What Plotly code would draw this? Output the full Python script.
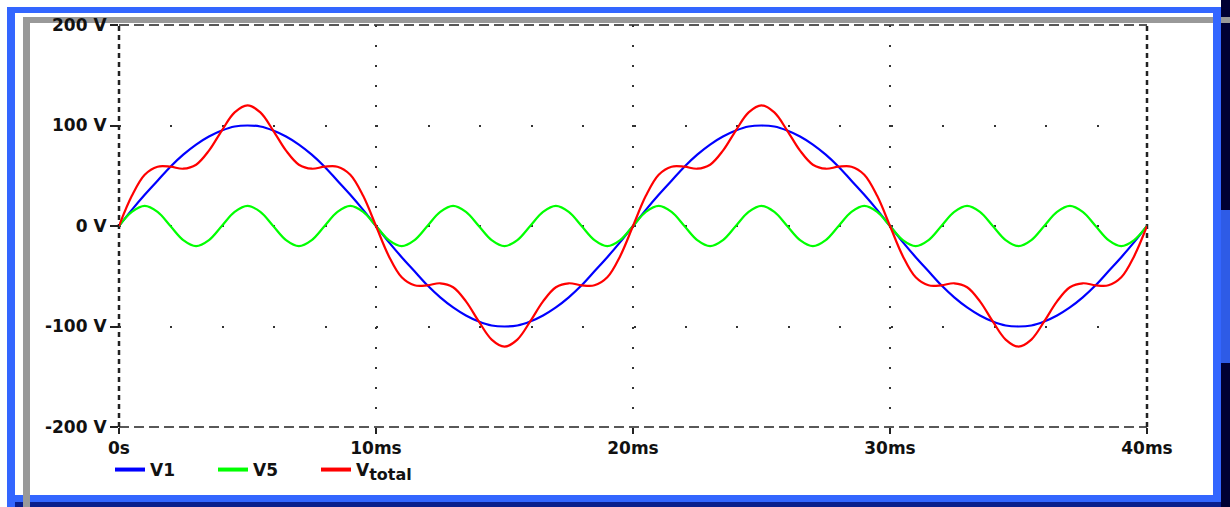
import plotly.graph_objects as go

# ---------------- data ----------------
t_ms = [0, 0.5, 1, 1.5, 2, 2.5, 3, 3.5, 4, 4.5, 5, 5.5, 6, 6.5, 7, 7.5, 8, 8.5, 9, 9.5,
        10, 10.5, 11, 11.5, 12, 12.5, 13, 13.5, 14, 14.5, 15, 15.5, 16, 16.5, 17, 17.5, 18, 18.5, 19, 19.5,
        20, 20.5, 21, 21.5, 22, 22.5, 23, 23.5, 24, 24.5, 25, 25.5, 26, 26.5, 27, 27.5, 28, 28.5, 29, 29.5,
        30, 30.5, 31, 31.5, 32, 32.5, 33, 33.5, 34, 34.5, 35, 35.5, 36, 36.5, 37, 37.5, 38, 38.5, 39, 39.5,
        40]

v1 = [0, 16, 31, 45, 59, 71, 81, 89, 95, 99, 100, 99, 95, 89, 81, 71, 59, 45, 31, 16,
      0, -16, -31, -45, -59, -71, -81, -89, -95, -99, -100, -99, -95, -89, -81, -71, -59, -45, -31, -16,
      0, 16, 31, 45, 59, 71, 81, 89, 95, 99, 100, 99, 95, 89, 81, 71, 59, 45, 31, 16,
      0, -16, -31, -45, -59, -71, -81, -89, -95, -99, -100, -99, -95, -89, -81, -71, -59, -45, -31, -16,
      0]

v5 = [0, 14, 20, 14, 0, -14, -20, -14, 0, 14, 20, 14, 0, -14, -20, -14, 0, 14, 20, 14,
      0, -14, -20, -14, 0, 14, 20, 14, 0, -14, -20, -14, 0, 14, 20, 14, 0, -14, -20, -14,
      0, 14, 20, 14, 0, -14, -20, -14, 0, 14, 20, 14, 0, -14, -20, -14, 0, 14, 20, 14,
      0, -14, -20, -14, 0, 14, 20, 14, 0, -14, -20, -14, 0, 14, 20, 14, 0, -14, -20, -14,
      0]

v_total = [0, 30, 51, 59, 59, 57, 61, 75, 95, 113, 120, 113, 95, 75, 61, 57, 59, 59, 51, 30,
           0, -30, -51, -59, -59, -57, -61, -75, -95, -113, -120, -113, -95, -75, -61, -57, -59, -59, -51, -30,
           0, 30, 51, 59, 59, 57, 61, 75, 95, 113, 120, 113, 95, 75, 61, 57, 59, 59, 51, 30,
           0, -30, -51, -59, -59, -57, -61, -75, -95, -113, -120, -113, -95, -75, -61, -57, -59, -59, -51, -30,
           0]

series_names = ["V1", "V5", "V<sub><span style=\"font-size:16px\">total</span></sub>"]
series_colors = ["#0000FF", "#00FF00", "#FF0000"]

x_tickvals = [0, 10, 20, 30, 40]
x_ticktext = ["0s", "10ms", "20ms", "30ms", "40ms"]
y_tickvals = [-200, -100, 0, 100, 200]
y_ticktext = ["-200 V", "-100 V", "0 V", "100 V", "200 V"]

# ---------------- layout geometry ----------------
W, H = 1230, 507
ML, MR, MT, MB = 119, 83, 25, 80
PW, PH = W - ML - MR, H - MT - MB


def px_x(p):
    return (p - ML) / PW


def px_y(p):
    return (H - MB - p) / PH


FONT = dict(family="DejaVu Sans", size=17, color="#111111", weight="bold")

fig = go.Figure()
for vals, name, col in zip([v1, v5, v_total], series_names, series_colors):
    fig.add_trace(go.Scatter(x=t_ms, y=vals, mode="lines", name=name,
                             line=dict(color=col, width=2.2, shape="spline"),
                             showlegend=False, hoverinfo="skip"))
# legend entries (thicker line samples as in the original)
for name, col in zip(series_names, series_colors):
    fig.add_trace(go.Scatter(x=[None], y=[None], mode="lines", name=name,
                             line=dict(color=col, width=4), showlegend=True))

shapes = []


def rect(x0, y0, x1, y1, color, layer="below"):
    shapes.append(dict(type="rect", xref="paper", yref="paper",
                       x0=px_x(x0), x1=px_x(x1), y0=px_y(y1), y1=px_y(y0),
                       fillcolor=color, line=dict(width=0), layer=layer))


# outer frame
BLUE = "#3366FF"
NAVY = "#000033"
GRAY = "#999999"
rect(7, 7, 1221, 13, BLUE)          # top
rect(7, 7, 15, 507, BLUE)           # left
rect(15, 495, 1221, 502, BLUE)      # bottom
rect(15, 502, 1230, 507, "#0A1E8C") # bottom dark
rect(1213, 7, 1221, 502, BLUE)      # right
rect(1221, 0, 1230, 507, NAVY)      # far right
rect(1221, 210, 1230, 363, "#2E5BE6")
rect(23, 17, 1213, 23, GRAY)        # top gray
rect(1221, 17, 1230, 23, GRAY)
rect(23, 17, 30, 507, GRAY)         # left gray

# dashed plot border
DCOL = "#222222"
shapes.append(dict(type="line", xref="paper", yref="paper", x0=0, x1=1, y0=1, y1=1,
                   line=dict(color=DCOL, width=1.5, dash="10px,5px"), layer="below"))
shapes.append(dict(type="line", xref="paper", yref="paper", x0=0, x1=1, y0=0, y1=0,
                   line=dict(color=DCOL, width=1.5, dash="10px,5px"), layer="below"))
shapes.append(dict(type="line", xref="paper", yref="paper", x0=0, x1=0, y0=0, y1=1,
                   line=dict(color=DCOL, width=2.5, dash="5px,4px"), layer="below"))
shapes.append(dict(type="line", xref="paper", yref="paper", x0=1, x1=1, y0=0, y1=1,
                   line=dict(color=DCOL, width=2.5, dash="5px,4px"), layer="below"))

fig.update_layout(
    width=W, height=H,
    margin=dict(l=ML, r=MR, t=MT, b=MB, pad=0),
    paper_bgcolor="white", plot_bgcolor="white",
    shapes=shapes,
    showlegend=True,
    legend=dict(orientation="h", x=px_x(110), y=px_y(452), xanchor="left", yanchor="top",
                font=FONT, entrywidth=58, bgcolor="rgba(0,0,0,0)", itemclick=False,
                tracegroupgap=0),
    xaxis=dict(range=[0, 40], tickvals=x_tickvals, ticktext=x_ticktext,
               showgrid=True, gridcolor="#333333", gridwidth=2, griddash="2px,18.1px",
               zeroline=False, showline=False, ticks="outside", ticklen=6, tickwidth=2,
               tickcolor=DCOL, tickfont=FONT, fixedrange=True),
    yaxis=dict(range=[-200, 200], tickvals=y_tickvals, ticktext=y_ticktext,
               showgrid=True, gridcolor="#333333", gridwidth=2, griddash="2px,49.45px",
               zeroline=False, showline=False, ticks="outside", ticklen=8, tickwidth=2,
               tickcolor=DCOL, tickfont=FONT, fixedrange=True),
)

fig.write_html("out.html")
